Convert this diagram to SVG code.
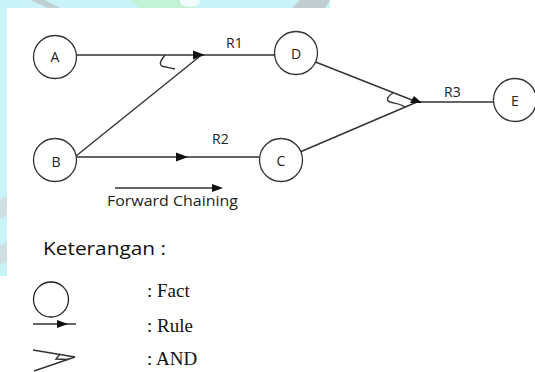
<svg xmlns="http://www.w3.org/2000/svg" width="535" height="372" viewBox="0 0 535 372">
<style>
.bg{fill:#c9f3f8}
.node{fill:#ffffff;stroke:#333333;stroke-width:1.3}
.lbl{font-family:"Open Sans","Liberation Sans",sans-serif;font-size:14px;fill:#222222;text-anchor:middle}
.edge{stroke:#333333;stroke-width:1.4;fill:none}
.head{fill:#111111;stroke:none}
.rl{font-family:"Open Sans","Liberation Sans",sans-serif;font-size:14px;fill:#222222}
.leg{font-family:"Liberation Serif","Times New Roman",serif;font-size:19px;fill:#111111}
</style>
<rect x="0" y="0" width="535" height="372" fill="#ffffff"/>
<g id="background">
<rect class="bg" x="0" y="0" width="330" height="8"/>
<rect class="bg" x="0" y="0" width="7" height="276"/>
<polygon points="30,0 45,0 60,8 48,8" fill="#bfcfd2"/>
<polygon points="130,0 200,0 195,8 140,8" fill="#c4f2d6"/>
<ellipse cx="190" cy="2" rx="10" ry="5" fill="#f2fcfd"/>
<polygon points="300,0 330,0 325,8 292,8" fill="#c2cdd0"/>
<polygon points="0,200 7,196 7,215 0,218" fill="#d0dfe2"/>
<polygon points="0,245 7,242 7,262 0,265" fill="#d0dfe2"/>
</g>
<g id="connectors">
<line class="edge" x1="76" y1="55" x2="275" y2="55"/>
<polygon class="head" points="205,55 193,50.5 193,59.5"/>
<line class="edge" x1="76" y1="156" x2="199" y2="57"/>
<path class="edge" d="M165,55 C161,60 158,65 163,66.5 C168,67.5 172,68 175,69"/>
<text class="rl" x="226" y="48">R1</text>
<line class="edge" x1="76" y1="157" x2="260" y2="157"/>
<polygon class="head" points="188,157 176,152.5 176,161.5"/>
<text class="rl" x="212" y="144">R2</text>
<line class="edge" x1="315.5" y1="62" x2="417" y2="102"/>
<line class="edge" x1="300" y1="152" x2="417" y2="102"/>
<line class="edge" x1="417" y1="102" x2="494" y2="102"/>
<polygon class="head" points="410,103 422,103 414,96"/>
<path class="edge" d="M393,93 C388,96 385,100 390,102 C395,103.5 401,104 405,107"/>
<text class="rl" x="444" y="97">R3</text>
<line class="edge" x1="115" y1="188" x2="214" y2="188"/>
<polygon class="head" points="223,188 212,184 212,192"/>
</g>
<g id="node-A">
<circle class="node" cx="55" cy="57" r="21.5"/>
<text class="lbl" x="55" y="62">A</text>
</g>
<g id="node-B">
<circle class="node" cx="55" cy="160" r="21.5"/>
<text class="lbl" x="56" y="167">B</text>
</g>
<g id="node-D">
<circle class="node" cx="296" cy="53" r="21.5"/>
<text class="lbl" x="296" y="59">D</text>
</g>
<g id="node-C">
<circle class="node" cx="281" cy="160" r="21.5"/>
<text class="lbl" x="281" y="166">C</text>
</g>
<g id="node-E">
<circle class="node" cx="515" cy="100" r="21.5"/>
<text class="lbl" x="515" y="106">E</text>
</g>
<g id="caption">
<text x="107" y="206" font-family="'Open Sans','Liberation Sans',sans-serif" font-size="15" fill="#222222" textLength="131" lengthAdjust="spacingAndGlyphs">Forward Chaining</text>
<text x="43" y="255" font-family="'Open Sans','Liberation Sans',sans-serif" font-size="18" fill="#111111" textLength="123" lengthAdjust="spacingAndGlyphs">Keterangan :</text>
</g>
<g id="legend">
<circle cx="51" cy="299.5" r="17.5" fill="none" stroke="#222222" stroke-width="1.3"/>
<text class="leg" x="147" y="297">: Fact</text>
<line class="edge" x1="33" y1="324" x2="76" y2="324"/>
<polygon class="head" points="68,324 57,320 57,328"/>
<text class="leg" x="147" y="332">: Rule</text>
<line class="edge" x1="33" y1="350" x2="75" y2="357"/>
<line class="edge" x1="34" y1="371" x2="75" y2="357"/>
<path class="edge" d="M60,354 L56,359 L68,359.5"/>
<text class="leg" x="147" y="365">: AND</text>
</g>
</svg>
